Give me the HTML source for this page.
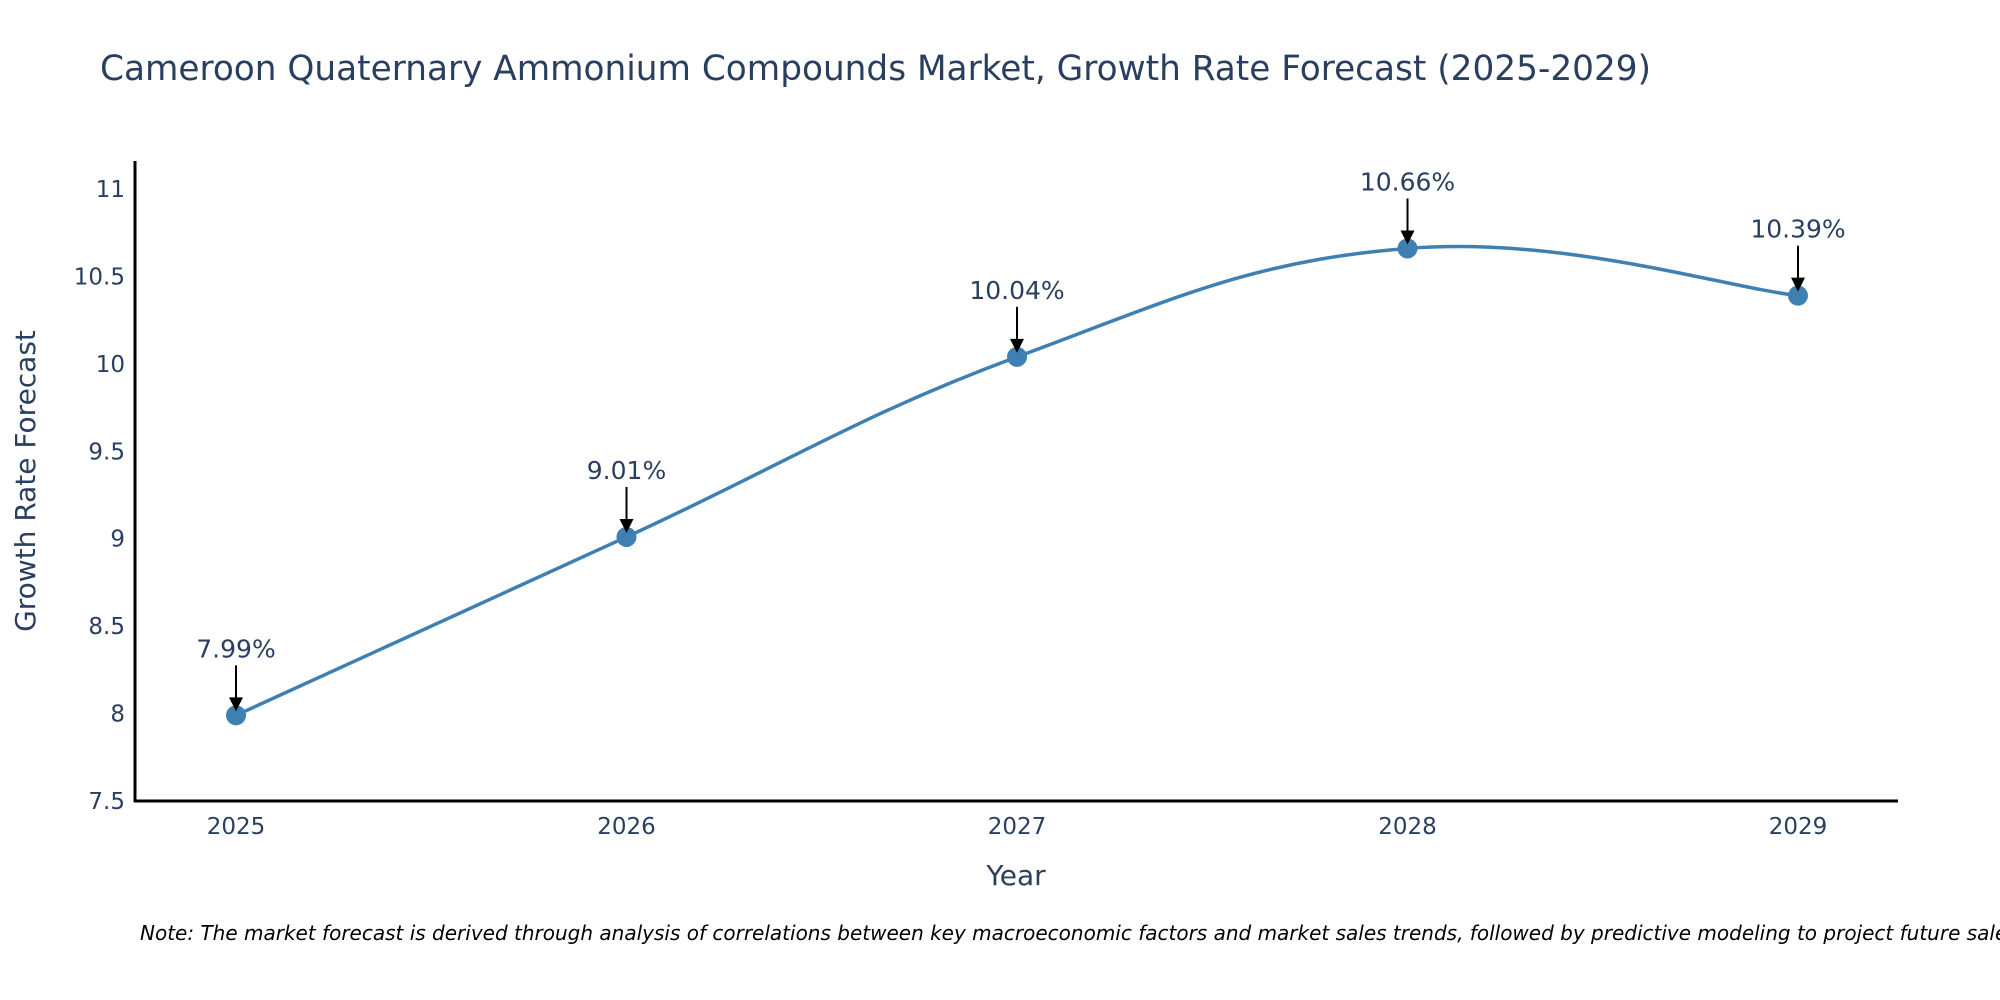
<!DOCTYPE html>
<html><head><meta charset="utf-8"><style>
body{margin:0;background:#fff;}
svg{display:block;font-family:"DejaVu Sans","Liberation Sans",sans-serif;}
</style></head><body>
<svg id="chart" width="2000" height="1000" viewBox="0 0 2000 1000">
<text x="100" y="80" font-size="34.3" fill="#2a3f5f">Cameroon Quaternary Ammonium Compounds Market, Growth Rate Forecast (2025-2029)</text>
<g id="yticks"></g>
<g id="xticks"></g>
<line x1="135" y1="161" x2="135" y2="802" stroke="#000" stroke-width="3"/>
<line x1="134" y1="801" x2="1898" y2="801" stroke="#000" stroke-width="3"/>
<path id="line" fill="none" stroke="#3f80b3" stroke-width="3.5"/>
<g id="marks"></g>
<text x="1016" y="885" font-size="28" fill="#2a3f5f" text-anchor="middle">Year</text>
<text transform="translate(35,481) rotate(-90)" font-size="28" fill="#2a3f5f" text-anchor="middle">Growth Rate Forecast</text>
<text x="140" y="940" font-size="20" font-style="italic" fill="#000">Note: The market forecast is derived through analysis of correlations between key macroeconomic factors and market sales trends, followed by predictive modeling to project future sales.</text>
</svg>
<script>
const years=["2025","2026","2027","2028","2029"];
const values=[7.99,9.01,10.04,10.66,10.39];
const labels=["7.99%","9.01%","10.04%","10.66%","10.39%"];
const yTicks=[7.5,8,8.5,9,9.5,10,10.5,11];
const NS="http://www.w3.org/2000/svg";
function xs(i){return 236+i*(1798-236)/(years.length-1);}
function ys(v){return 801-(v-7.5)*(801-189)/3.5;}
function mk(tag,attrs,parent){const e=document.createElementNS(NS,tag);for(const k in attrs)e.setAttribute(k,attrs[k]);parent.appendChild(e);return e;}
const yg=document.getElementById('yticks');
yTicks.forEach(t=>{const e=mk('text',{x:125,y:ys(t)+8,'font-size':23,fill:'#2a3f5f','text-anchor':'end'},yg);


e.textContent=String(t);});
const xg=document.getElementById('xticks');
years.forEach((y,i)=>{const e=mk('text',{x:xs(i),y:834,'font-size':23,fill:'#2a3f5f','text-anchor':'middle'},xg);


e.textContent=y;});
const P=values.map((v,i)=>[xs(i),ys(v)]);
let d="M"+P[0][0]+","+P[0][1];const s=0.4;
for(let i=0;i<P.length-1;i++){const p0=P[Math.max(0,i-1)],p1=P[i],p2=P[i+1],p3=P[Math.min(P.length-1,i+2)];
const c1=[p1[0]+(p2[0]-p0[0])*s/2,p1[1]+(p2[1]-p0[1])*s/2];
const c2=[p2[0]-(p3[0]-p1[0])*s/2,p2[1]-(p3[1]-p1[1])*s/2];
d+=" C"+c1+" "+c2+" "+p2;}
document.getElementById('line').setAttribute('d',d);
const mg=document.getElementById('marks');
P.forEach((p,i)=>{
const c=mk('circle',{cx:p[0],cy:p[1],r:10,fill:'#3f80b3'},mg);


const l=mk('line',{x1:p[0],y1:p[1]-50,x2:p[0],y2:p[1]-16,stroke:'#000','stroke-width':2},mg);


const h=mk('polygon',{points:`${p[0]-7},${p[1]-18} ${p[0]+7},${p[1]-18} ${p[0]},${p[1]-4}`,fill:'#000'},mg);


const t=mk('text',{x:p[0],y:p[1]-58,'font-size':25,fill:'#2a3f5f','text-anchor':'middle'},mg);


t.textContent=labels[i];});
</script>
</body></html>
